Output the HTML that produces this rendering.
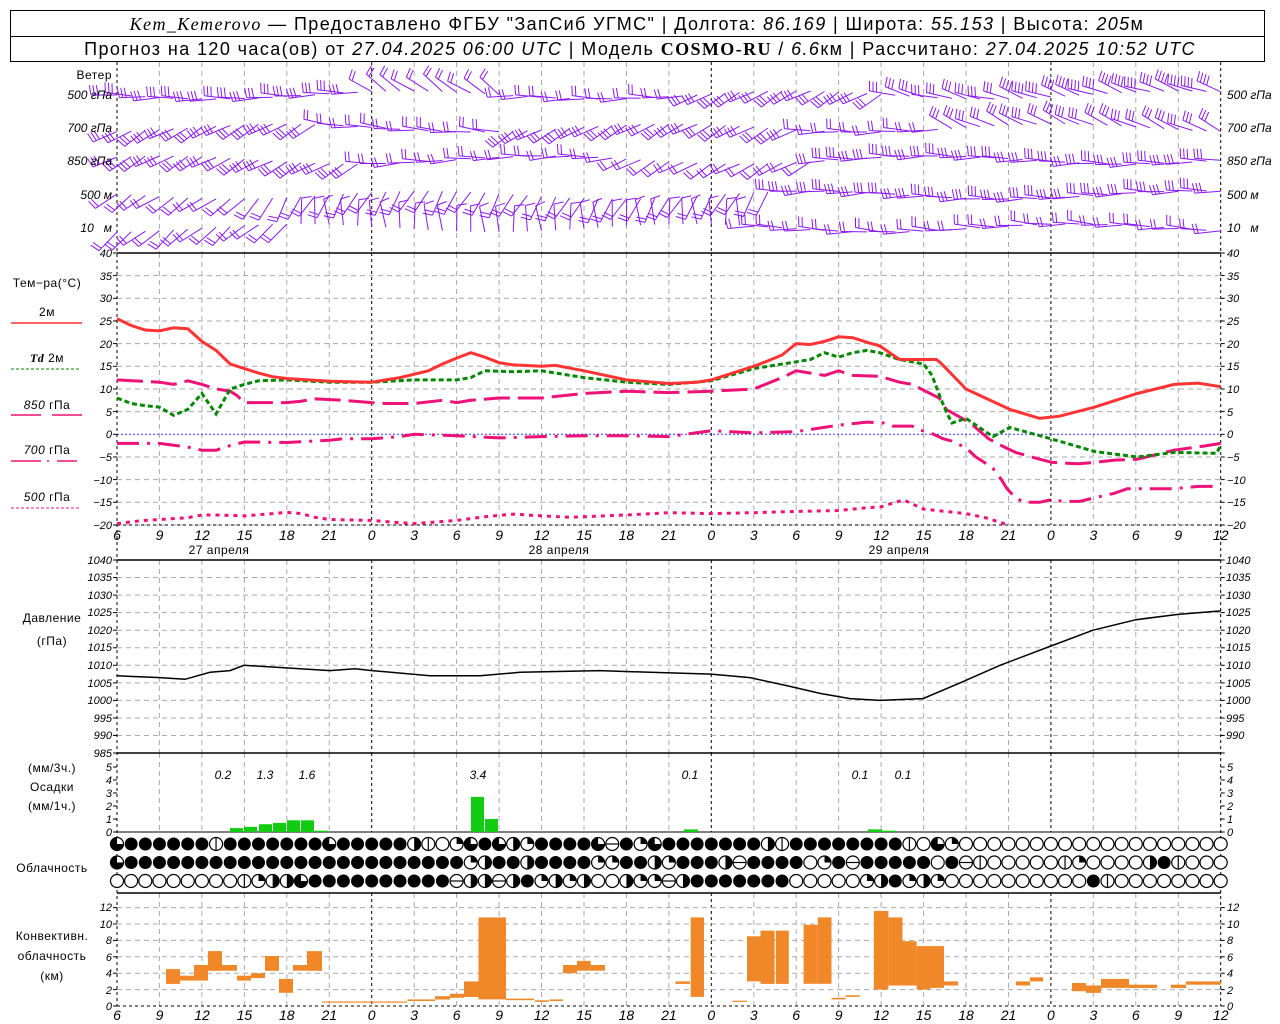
<!DOCTYPE html>
<html><head><meta charset="utf-8">
<style>
body{margin:0;background:#fff;}
svg{display:block;font-family:"Liberation Sans",sans-serif;}
.t{font-size:12px;fill:#000;letter-spacing:0.5px}
.it{font-style:italic;font-size:12px;fill:#000}
.tk{font-style:italic;font-size:11px;fill:#000}
.tm{font-style:italic;font-size:14px;fill:#000}
.hd{font-size:18px;fill:#000;letter-spacing:1.4px}
</style></head>
<body>
<svg id="s" width="1280" height="1024" viewBox="0 0 1280 1024" xmlns="http://www.w3.org/2000/svg">
<rect width="1280" height="1024" fill="#fff"/>
<rect x="10.5" y="10.5" width="1254" height="51" fill="none" stroke="#000"/>
<line x1="10" y1="36.5" x2="1265" y2="36.5" stroke="#000"/>
<text x="637" y="30" text-anchor="middle" class="hd"><tspan font-family="Liberation Serif" font-style="italic">Kem_Kemerovo</tspan> — Предоставлено ФГБУ "ЗапСиб УГМС" | Долгота: <tspan font-style="italic">86.169</tspan> | Широта: <tspan font-style="italic">55.153</tspan> | Высота: <tspan font-style="italic">205</tspan>м</text>
<text x="640" y="55" text-anchor="middle" class="hd">Прогноз на 120 часа(ов) от <tspan font-style="italic">27.04.2025 06:00 UTC</tspan>  | Модель <tspan font-family="Liberation Serif" font-weight="bold">COSMO-RU</tspan> / <tspan font-style="italic">6.6</tspan>км | Рассчитано: <tspan font-style="italic">27.04.2025 10:52 UTC</tspan></text>
<g id="g"></g>
<text x="112" y="79" text-anchor="end" class="t">Ветер</text>
<text x="112" y="99" text-anchor="end" class="it">500 гПа</text>
<text x="112" y="132" text-anchor="end" class="it">700 гПа</text>
<text x="112" y="165" text-anchor="end" class="it">850 гПа</text>
<text x="112" y="199" text-anchor="end" class="it">500 м</text>
<text x="112" y="232" text-anchor="end" class="it">10 &#160; м</text>
<text x="1227" y="99" class="it">500 гПа</text>
<text x="1227" y="132" class="it">700 гПа</text>
<text x="1227" y="165" class="it">850 гПа</text>
<text x="1227" y="199" class="it">500 м</text>
<text x="1227" y="232" class="it">10 &#160; м</text>
<text x="47" y="287" text-anchor="middle" class="t">Тем−ра(°C)</text>
<text x="47" y="316" text-anchor="middle" class="t">2м</text>
<text x="47" y="362" text-anchor="middle" class="t"><tspan font-style="italic" font-weight="bold" font-family="Liberation Serif">Td</tspan>  2м</text>
<text x="47" y="409" text-anchor="middle" class="t"><tspan font-style="italic">850</tspan> гПа</text>
<text x="47" y="454" text-anchor="middle" class="t"><tspan font-style="italic">700</tspan> гПа</text>
<text x="47" y="501" text-anchor="middle" class="t"><tspan font-style="italic">500</tspan> гПа</text>
<line x1="11" y1="323" x2="82" y2="323" stroke="#f33" stroke-width="1.5"/>
<line x1="11" y1="369" x2="79" y2="369" stroke="#080" stroke-width="1" stroke-dasharray="3,2"/>
<line x1="11" y1="415" x2="41" y2="415" stroke="#e17" stroke-width="1.5"/><line x1="52" y1="415" x2="82" y2="415" stroke="#e17" stroke-width="1.5"/>
<path d="M11 461H41M47 461H49M57 461H77" stroke="#e17" stroke-width="1.5"/>
<line x1="11" y1="508" x2="79" y2="508" stroke="#e17" stroke-width="1" stroke-dasharray="3,2"/>
<g class="tk" text-anchor="end">
<text x="112" y="257">40</text><text x="112" y="280">35</text><text x="112" y="302">30</text><text x="112" y="325">25</text><text x="112" y="348">20</text><text x="112" y="370">15</text><text x="112" y="393">10</text><text x="112" y="416">5</text><text x="112" y="438">0</text><text x="112" y="461">−5</text><text x="112" y="484">−10</text><text x="112" y="506">−15</text><text x="112" y="529">−20</text>
</g>
<g class="tk">
<text x="1227" y="257">40</text><text x="1227" y="280">35</text><text x="1227" y="302">30</text><text x="1227" y="325">25</text><text x="1227" y="348">20</text><text x="1227" y="370">15</text><text x="1227" y="393">10</text><text x="1227" y="416">5</text><text x="1227" y="438">0</text><text x="1227" y="461">−5</text><text x="1227" y="484">−10</text><text x="1227" y="506">−15</text><text x="1227" y="529">−20</text>
</g>
<g class="tm" text-anchor="middle">
<text x="117" y="540">6</text><text x="159.5" y="540">9</text><text x="202" y="540">12</text><text x="244.4" y="540">15</text><text x="286.8" y="540">18</text><text x="329.3" y="540">21</text><text x="371.7" y="540">0</text><text x="414.2" y="540">3</text><text x="456.6" y="540">6</text><text x="499.1" y="540">9</text><text x="541.5" y="540">12</text><text x="584" y="540">15</text><text x="626.4" y="540">18</text><text x="668.9" y="540">21</text><text x="711.3" y="540">0</text><text x="753.8" y="540">3</text><text x="796.2" y="540">6</text><text x="838.7" y="540">9</text><text x="881.1" y="540">12</text><text x="923.6" y="540">15</text><text x="966" y="540">18</text><text x="1008.5" y="540">21</text><text x="1050.9" y="540">0</text><text x="1093.4" y="540">3</text><text x="1135.8" y="540">6</text><text x="1178.3" y="540">9</text><text x="1220.7" y="540">12</text>
</g>
<g class="t" text-anchor="middle" font-size="13">
<text x="219" y="554">27 апреля</text><text x="559" y="554">28 апреля</text><text x="899" y="554">29 апреля</text>
</g>
<text x="52" y="622" text-anchor="middle" class="t">Давление</text>
<text x="52" y="645" text-anchor="middle" class="t">(гПа)</text>
<g class="tk" text-anchor="end" font-size="10">
<text x="112" y="564">1040</text><text x="112" y="581">1035</text><text x="112" y="599">1030</text><text x="112" y="616">1025</text><text x="112" y="634">1020</text><text x="112" y="651">1015</text><text x="112" y="669">1010</text><text x="112" y="687">1005</text><text x="112" y="704">1000</text><text x="112" y="722">995</text><text x="112" y="739">990</text><text x="112" y="757">985</text>
</g>
<g class="tk" font-size="10">
<text x="1226" y="564">1040</text><text x="1226" y="581">1035</text><text x="1226" y="599">1030</text><text x="1226" y="616">1025</text><text x="1226" y="634">1020</text><text x="1226" y="651">1015</text><text x="1226" y="669">1010</text><text x="1226" y="687">1005</text><text x="1226" y="704">1000</text><text x="1226" y="722">995</text><text x="1226" y="739">990</text>
</g>
<text x="52" y="772" text-anchor="middle" class="t">(мм/3ч.)</text>
<text x="52" y="791" text-anchor="middle" class="t">Осадки</text>
<text x="52" y="810" text-anchor="middle" class="t">(мм/1ч.)</text>
<g class="tk" text-anchor="end" font-size="10">
<text x="112" y="771">5</text><text x="112" y="784">4</text><text x="112" y="797">3</text><text x="112" y="810">2</text><text x="112" y="823">1</text><text x="112" y="836">0</text>
</g>
<g class="tk" font-size="10">
<text x="1227" y="771">5</text><text x="1227" y="784">4</text><text x="1227" y="797">3</text><text x="1227" y="810">2</text><text x="1227" y="823">1</text><text x="1227" y="836">0</text>
</g>
<g class="it" text-anchor="middle" font-size="13">
<text x="223" y="779">0.2</text><text x="265" y="779">1.3</text><text x="307" y="779">1.6</text><text x="478" y="779">3.4</text><text x="690" y="779">0.1</text><text x="860" y="779">0.1</text><text x="903" y="779">0.1</text>
</g>
<text x="52" y="872" text-anchor="middle" class="t">Облачность</text>
<text x="52" y="940" text-anchor="middle" class="t">Конвективн.</text>
<text x="52" y="960" text-anchor="middle" class="t">облачность</text>
<text x="52" y="980" text-anchor="middle" class="t">(км)</text>
<g class="tk" text-anchor="end" font-size="10">
<text x="112" y="911">12</text><text x="112" y="928">10</text><text x="112" y="944">8</text><text x="112" y="961">6</text><text x="112" y="977">4</text><text x="112" y="994">2</text><text x="112" y="1010">0</text>
</g>
<g class="tk" font-size="10">
<text x="1227" y="911">12</text><text x="1227" y="928">10</text><text x="1227" y="944">8</text><text x="1227" y="961">6</text><text x="1227" y="977">4</text><text x="1227" y="994">2</text><text x="1227" y="1010">0</text>
</g>
<g class="tm" text-anchor="middle">
<text x="117" y="1020">6</text><text x="159.5" y="1020">9</text><text x="202" y="1020">12</text><text x="244.4" y="1020">15</text><text x="286.8" y="1020">18</text><text x="329.3" y="1020">21</text><text x="371.7" y="1020">0</text><text x="414.2" y="1020">3</text><text x="456.6" y="1020">6</text><text x="499.1" y="1020">9</text><text x="541.5" y="1020">12</text><text x="584" y="1020">15</text><text x="626.4" y="1020">18</text><text x="668.9" y="1020">21</text><text x="711.3" y="1020">0</text><text x="753.8" y="1020">3</text><text x="796.2" y="1020">6</text><text x="838.7" y="1020">9</text><text x="881.1" y="1020">12</text><text x="923.6" y="1020">15</text><text x="966" y="1020">18</text><text x="1008.5" y="1020">21</text><text x="1050.9" y="1020">0</text><text x="1093.4" y="1020">3</text><text x="1135.8" y="1020">6</text><text x="1178.3" y="1020">9</text><text x="1220.7" y="1020">12</text>
</g>
</svg>
<script>
(function(){
var X0=117,DX=14.15,X1=1220.7;
function hx(h){return X0+h*DX;}
var out=[];
function L(x1,y1,x2,y2,st){out.push('<line x1="'+x1.toFixed(1)+'" y1="'+y1.toFixed(1)+'" x2="'+x2.toFixed(1)+'" y2="'+y2.toFixed(1)+'" '+st+'/>');}
var grey='stroke="#aaa" stroke-width="1" stroke-dasharray="5,4"';
var blk='stroke="#000" stroke-width="1" stroke-dasharray="3,3"';
var panels=[[62,253],[253,525],[560,753],[753,832],[893,1006]];
panels.forEach(function(p){
 for(var h=3;h<78;h+=3){
  var x=hx(h); var mid=(h%24)==18;
  L(x,p[0],x,p[1],mid?blk:grey);
 }
});
function TY(v){return 434.3-v*4.533;}
for(var v=35;v>=-20;v-=5){ if(v==0) continue; L(X0,TY(v),X1,TY(v),grey);}
L(X0,TY(0),X1,TY(0),'stroke="#33f" stroke-width="1" stroke-dasharray="2,2"');
function PY(v){return 560+(1040-v)*3.51;}
for(var v=1035;v>985;v-=5){L(X0,PY(v),X1,PY(v),grey);}
function CY(k){return 1006-k*8.2;}
for(var k=2;k<=12;k+=2){L(X0,CY(k),X1,CY(k),grey);}
L(X0,62,X0,1006,blk);L(X1,62,X1,1006,blk);
[253,560,753,893].forEach(function(y){L(X0,y,X1,y,'stroke="#000" stroke-width="1.5"');});
L(X0,525,X1,525,blk);L(X0,1006,X1,1006,blk);L(X0,832,X1,832,'stroke="#000" stroke-width="1"');
function ticks(ys){ys.forEach(function(y){L(X0-4,y,X0,y,'stroke="#000"');L(X1,y,X1+4,y,'stroke="#000"');});}
var a=[];for(var v=40;v>=-20;v-=5)a.push(TY(v));ticks(a);
a=[];for(var v=1040;v>=985;v-=5)a.push(PY(v));ticks(a);
a=[];for(var v=0;v<=5;v++)a.push(832-v*13);ticks(a);
a=[];for(var k=0;k<=12;k+=2)a.push(CY(k));ticks(a);
var col='#8a18f0';
var rows=[
 [95,[[0,17,180,3],[18,27,215,2],[28,40,180,2],[41,54,150,3],[55,63,195,3],[64,78,200,4]]],
 [128,[[0,14,150,3],[15,27,185,2],[28,48,150,3],[49,58,180,2],[59,78,205,3]]],
 [160,[[0,17,150,3],[18,35,178,2],[36,49,150,2],[50,78,180,3]]],
 [195,[[0,9,145,2],[10,46,120,2],[47,56,178,3],[57,78,180,3]]],
 [228,[[0,12,140,2],[13,44,265,1],[45,78,182,2]]]
];
rows.forEach(function(r,ri){
 var y0=r[0];
 for(var h=0;h<=78;h++){
  var seg=r[1].filter(function(s){return h>=s[0]&&h<=s[1];})[0];
  var ang=seg[2]+Math.sin(h*1.7+ri)*8, n=seg[3];
  var dy=Math.sin(h*0.23+ri*2)*4;
  var x=hx(h),y=y0+dy,Ls=26;
  var rad=ang*Math.PI/180,cx=Math.cos(rad),cy=Math.sin(rad);
  var ex=x+Ls*cx,ey=y+Ls*cy;
  L(x,y,ex,ey,'stroke="'+col+'" stroke-width="1"');
  var fr=(ang+80)*Math.PI/180;
  for(var i=0;i<n;i++){
   var px=ex-cx*i*3.5,py=ey-cy*i*3.5;
   var fl=10;
   L(px,py,px+Math.cos(fr)*fl,py+Math.sin(fr)*fl,'stroke="'+col+'" stroke-width="1"');
  }
 }
});
function poly(pts,fy,st){
 var d=pts.map(function(p,i){return (i?'L':'M')+hx(p[0]).toFixed(1)+' '+fy(p[1]).toFixed(1);}).join('');
 out.push('<path d="'+d+'" fill="none" '+st+'/>');
}
var T2=[[0,25.5],[1,24],[2,23],[3,22.8],[4,23.5],[5,23.3],[6,20.5],[7,18.5],[8,15.5],[9,14.5],[10,13.5],[11,12.7],[12,12.3],[15,11.7],[18,11.5],[20,12.5],[22,14],[23,15.5],[24,16.8],[25,18],[26,17],[27,15.8],[28,15.3],[30,15],[31,15.2],[33,14],[36,12],[39,11.2],[41,11.5],[42,12],[44,14],[45,15],[46,16.2],[47,17.5],[48,20],[49,19.8],[50,20.5],[51,21.5],[52,21.3],[53,20.3],[53.9,19.5],[55.3,16.5],[57.9,16.5],[58.2,15.8],[60,10],[61.5,7.8],[63.1,5.5],[65.2,3.5],[66.6,4],[69.1,6],[72.1,9],[74.7,11],[76.4,11.3],[78,10.5]];
var TD=[[0,8],[1,6.8],[2,6.3],[3,6],[4,4.2],[5,5.5],[6,9],[7,4.5],[8,10],[9,11],[10,11.8],[12,12],[15,11.5],[18,11.5],[21,12],[24,12],[25,12.5],[26,14],[28,13.8],[30,14],[33,12.5],[36,11.5],[39,11],[42,11.8],[45,14.5],[48,16],[49,16.5],[50,18],[51,17],[52,18],[53,18.5],[53.9,18],[55.3,16.5],[57,15.5],[57.6,13],[58.2,8],[58.6,5],[59,2.5],[60,3.5],[61.9,-0.5],[63.1,1.5],[66,-1],[69.1,-3.8],[72.1,-5],[74.7,-4],[77.7,-4.2],[78,-2.5]];
var P850=[[0,12],[3,11.5],[4,11],[5,11.8],[6,11],[7,10],[8,9.5],[8.5,8.5],[9,7],[12,7],[13,7.3],[14,7.8],[16,7.5],[18,7],[19,6.8],[21,6.8],[23,7.5],[24,7],[25,7.5],[27,8],[30,8],[33,9],[36,9.5],[39,9.2],[42,9.5],[45,10],[47,12.5],[48,14],[50,13],[51,14],[52,13],[53.9,12.8],[55.3,11.5],[56.2,11],[58.1,8],[58.6,5.5],[60.3,2.5],[61.6,-1],[62.5,-2.5],[63.5,-4],[65.2,-5.5],[66.1,-6.2],[67.9,-6.5],[69.1,-6.2],[70.5,-5.7],[72.1,-5.5],[74.7,-3.5],[76.8,-2.6],[78,-2]];
var P700=[[0,-2],[3,-2],[5,-2.8],[6,-3.5],[7,-3.5],[8,-2.5],[9,-1.7],[12,-1.8],[15,-1.3],[16,-1],[18,-1],[20,-0.5],[21,0],[24,-0.3],[27,-0.8],[30,-0.5],[33,-0.3],[36,-0.3],[39,-0.5],[42,0.8],[45,0.3],[48,0.6],[51,2],[53,2.7],[54.2,2.5],[54.8,1.8],[56.2,1.8],[56.7,1],[57.5,0.3],[58.4,-1],[59,-1.5],[60,-3],[60.7,-5],[61.2,-6],[61.9,-7.5],[62.5,-10],[62.9,-12],[63.5,-14],[64.1,-15],[65.2,-15],[65.9,-14.5],[67.1,-14.8],[68,-14.8],[69.1,-14],[70.5,-13],[71.4,-12],[72.8,-12],[74.7,-12],[76.4,-11.5],[77.5,-11.5]];
var P500=[[0,-19.7],[1,-19.3],[2,-19],[3,-18.8],[4,-18.6],[5,-18.4],[6,-17.8],[7,-17.8],[9,-18],[11,-17.5],[12,-17.2],[13,-17.5],[14,-18.3],[15,-18.8],[18,-19],[20,-19.5],[21,-19.7],[24,-19],[26,-18.2],[28,-17.6],[30,-18],[32,-18.3],[36,-17.8],[39,-17.3],[42,-17.5],[45,-17.3],[48,-17],[51,-16.8],[53,-16.2],[54,-16],[55,-15],[55.6,-14.5],[57,-16.5],[60,-17.5],[61.5,-18.5],[63,-20]];
poly(P500,TY,'stroke="#e17" stroke-width="3" stroke-dasharray="4,5"');
poly(P700,TY,'stroke="#e17" stroke-width="3" stroke-dasharray="22,8,3,8"');
poly(P850,TY,'stroke="#e17" stroke-width="3" stroke-dasharray="26,8"');
poly(TD,TY,'stroke="#080" stroke-width="3" stroke-dasharray="5,3"');
poly(T2,TY,'stroke="#f33" stroke-width="3"');
var PR=[[117,1007],[160,1006.5],[185,1006],[210,1008],[230,1008.5],[244,1010],[300,1009],[330,1008.5],[355,1009],[372,1008.5],[430,1007],[480,1007],[520,1008],[600,1008.5],[650,1008],[711,1007.5],[750,1006.5],[790,1004],[820,1002],[850,1000.5],[880,1000],[923,1000.5],[960,1005],[1000,1010],[1051,1015.5],[1093,1020],[1136,1023],[1178,1024.5],[1221,1025.5]];
out.push('<path d="'+PR.map(function(p,i){return (i?'L':'M')+p[0]+' '+PY(p[1]).toFixed(1);}).join('')+'" fill="none" stroke="#000" stroke-width="1.5"/>');
var PB=[[230,243,0.3],[244,257,0.4],[259,272,0.6],[273,286,0.7],[287,300,0.9],[301,314,0.9],[315,328,0.1],[471,484,2.7],[485,498,1.0],[684,698,0.2],[868,882,0.2],[882,896,0.1]];
PB.forEach(function(b){var hh=b[2]*13;out.push('<rect x="'+b[0]+'" y="'+(832-hh)+'" width="'+(b[1]-b[0])+'" height="'+hh+'" fill="#1c1"/>');});
var CB=[[322,407,0.4,0.55],[166,180,2.7,4.5],[180,194,3.1,3.7],[194,208,3.1,5.0],[208,222,4.3,6.7],[222,237,4.3,5.0],[237,251,3.1,3.7],[251,265,3.4,4.0],[265,279,4.3,6.1],[279,293,1.6,3.3],[293,307,4.3,5.0],[307,322,4.3,6.7],
[407.5,435,0.6,0.8],[435,450,0.8,1.2],[450,464,1.0,1.5],[464,478.5,1.1,3.0],[478.5,506,0.8,10.8],[506,534,0.7,0.9],[535,548.7,0.5,0.7],[549.5,563,0.6,0.8],[563,577,4.0,5.0],[577,590.7,4.3,5.5],[590.7,605,4.3,5.0],[675.4,690,2.7,3.0],[690.7,704,1.1,10.8],[732.7,747,0.5,0.65],[747,760.5,3.0,8.5],[760.5,774.6,2.7,9.2],[775.8,788.8,2.7,9.2],[803.6,817.8,2.7,9.9],[817.8,831.5,2.7,10.8],[831.5,845.6,0.8,1.0],[845.6,859.8,1.1,1.3],[873.9,888.4,2.0,11.6],[888.4,902.5,2.5,10.8],[902.5,916.6,2.5,7.9],[916.6,930,2.0,7.3],[930,944,2.2,7.3],[944,958,2.5,3.0],
[1016,1030,2.5,3.0],[1030,1043,3.0,3.5],[1072,1086,1.8,2.8],[1086,1101,1.6,2.5],[1101,1115,2.2,3.3],[1115,1129,2.2,3.3],[1129,1143,2.2,2.6],[1143,1157,2.2,2.6],[1171,1186,2.2,2.6],[1186,1200,2.6,3.0],[1200,1221,2.6,3.0]];
CB.forEach(function(b){out.push('<rect x="'+b[0]+'" y="'+CY(b[3]).toFixed(1)+'" width="'+(b[1]-b[0])+'" height="'+((b[3]-b[2])*8.2).toFixed(1)+'" fill="#f0882a"/>');});
var R1="TFFFFFFVFFFFFFFTFFFFFLVEQTFTLQFFFFTHFQTFFFFFFFLVFFFFFFFFVETQEEEEEEEEEEEEEEEEEEE";
var R2="TFFFFFFFFFFFFFFFFFFFFFFFFQLFFLFFFFQQFFLQFFFLHFFFFEQFHFFFFFEFHVEEEEEVQEEEELFVEEEEV";
var R3="EEEEEEEEEVQLLTFFFFFFFFFFHLLHLFQLQLEELQQHLFFFFFFFEEEEEQLFQLQEEEEEEEEEEFVEEEEEEEE";
[[R1,844],[R2,862.5],[R3,881]].forEach(function(r){
 for(var h=0;h<=78;h++){
  var c=r[0][h]||'E',x=hx(h),y=r[1],rr=6.5;
  var s='';
  if(c=='F') s='<circle cx="'+x+'" cy="'+y+'" r="'+rr+'" fill="#000"/>';
  else {
   s='<circle cx="'+x+'" cy="'+y+'" r="'+rr+'" fill="#fff" stroke="#000" stroke-width="1.2"/>';
   if(c=='V') s+='<line x1="'+x+'" y1="'+(y-rr)+'" x2="'+x+'" y2="'+(y+rr)+'" stroke="#000" stroke-width="1.2"/>';
   if(c=='H') s+='<line x1="'+(x-rr)+'" y1="'+y+'" x2="'+(x+rr)+'" y2="'+y+'" stroke="#000" stroke-width="1.2"/>';
   if(c=='L') s+='<path d="M'+x+' '+(y-rr)+'A'+rr+' '+rr+' 0 0 1 '+x+' '+(y+rr)+'Z" fill="#000"/>';
   if(c=='Q') s+='<path d="M'+x+' '+y+'L'+x+' '+(y-rr)+'A'+rr+' '+rr+' 0 0 1 '+(x+rr)+' '+y+'Z" fill="#000"/>';
   if(c=='T') s+='<path d="M'+x+' '+y+'L'+(x+rr)+' '+y+'A'+rr+' '+rr+' 0 1 1 '+x+' '+(y-rr)+'Z" fill="#000"/>';
  }
  out.push(s);
 }
});
document.getElementById('g').innerHTML=out.join('');
})();
</script>
</body></html>
